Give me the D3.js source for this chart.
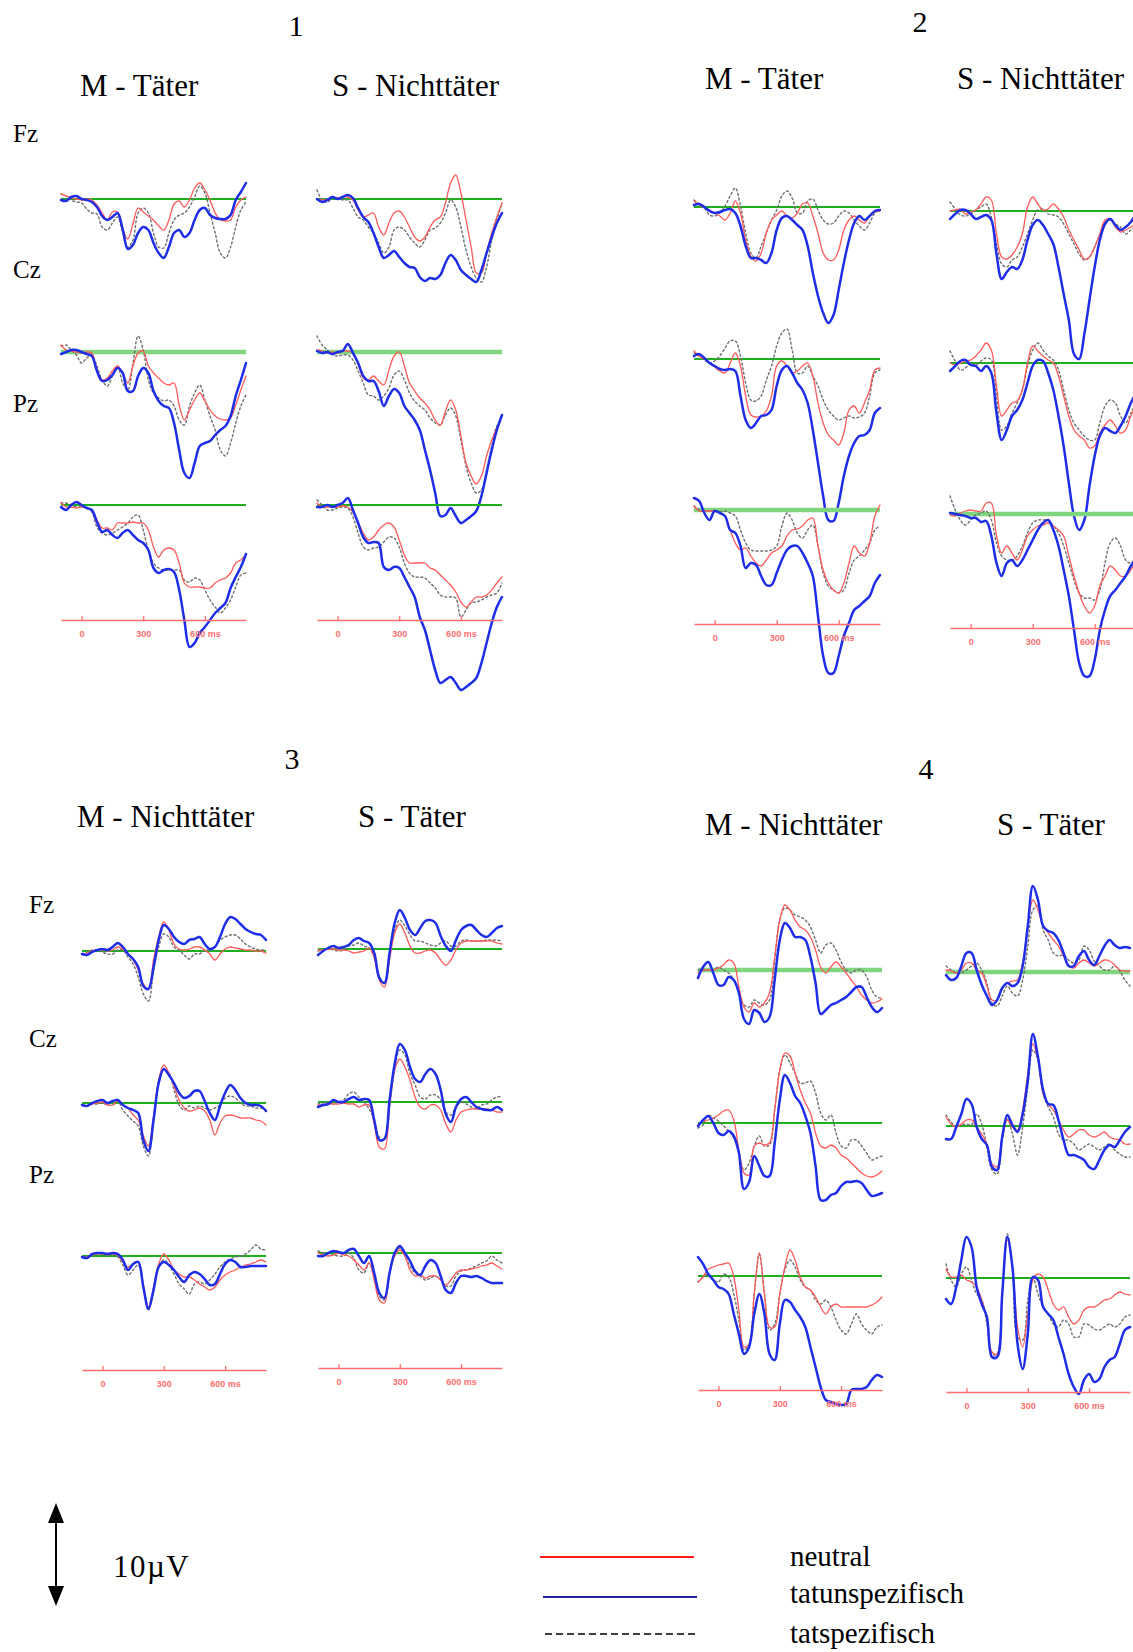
<!DOCTYPE html>
<html><head><meta charset="utf-8">
<script src="https://cdn.jsdelivr.net/npm/d3@7"></script>
<style>
body{margin:0;background:#fff}
svg{display:block;background:#fff}
.serif{font-family:"Liberation Serif","Times New Roman",serif;fill:#000}
</style>
</head><body>
<svg id="c" width="1133" height="1652"></svg>
<script>
// ---------- time axis / labels ----------
const times = [-100,-75,-50,-25,0,25,50,75,100,125,150,175,200,225,250,275,300,325,350,375,400,425,450,475,500,525,550,575,600,625,650,675,700,725,750,775,800];
const tickValues = [0, 300, 600];
const tickLabels = ["0", "300", "600 ms"];
const panelNumbers = ["1", "2", "3", "4"];
const columnTitles = [["M - Täter","S - Nichttäter"],["M - Täter","S - Nichttäter"],["M - Nichttäter","S - Täter"],["M - Nichttäter","S - Täter"]];
const electrodes = ["Fz", "Cz", "Pz"];
const legendLabels = ["neutral", "tatunspezifisch", "tatspezifisch"];
const scaleLabel = "10µV";

// ---------- amplitudes (µV, positive plotted downward) ----------
// Panel 1, left (M - Täter)
const p1a_Fz_neu  = [-0.5,-0.3,-0.1,0.0,0.1,0.0,0.1,0.6,1.4,2.1,1.3,1.3,3.0,4.0,2.5,0.9,1.3,1.7,2.1,2.7,3.1,2.1,0.5,0.2,0.8,0.1,-1.1,-1.6,-0.9,0.1,1.4,2.1,2.2,2.1,0.8,0.1,-0.2];
const p1a_Fz_unsp = [0.1,0.2,-0.2,-0.3,0.0,0.1,0.3,0.8,1.7,2.1,1.8,1.4,3.0,5.0,4.6,3.4,2.8,3.1,4.4,5.4,5.9,4.8,3.4,3.1,3.8,3.4,2.1,1.1,0.9,1.6,1.9,2.0,2.0,1.6,0.1,-0.7,-1.6];
const p1a_Fz_spez = [-0.5,-0.3,0.1,0.3,0.4,1.0,1.4,1.5,2.8,3.1,2.4,1.8,3.4,4.8,4.1,1.4,0.9,1.4,3.4,4.8,4.9,3.4,2.1,1.6,1.4,0.8,-0.2,-1.3,-0.6,1.4,3.4,5.4,5.9,4.8,2.8,1.1,0.3];
const p1a_Cz_neu  = [-0.7,-0.2,-0.1,0,0.1,0,0.1,1.8,2.8,2.6,1.9,1.4,2.1,3.1,1.4,0.1,-0.1,1.4,2.1,2.6,3.1,3.3,3.1,5.3,6.8,5.8,4.8,4.1,4.9,5.8,6.4,6.7,6.8,6.6,5.3,3.8,2.4];
const p1a_Cz_unsp = [0.2,0.0,-0.2,-0.2,0.0,0.2,0.4,1.9,2.9,2.8,2.3,1.6,2.1,3.9,3.9,2.4,1.6,2.1,3.9,4.9,5.4,5.6,7.1,9.8,12.1,12.6,11.1,9.4,9.1,8.9,8.3,7.8,7.4,6.4,4.4,2.8,1.1];
const p1a_Cz_spez = [-0.6,-0.7,-0.2,0.3,1.1,0.6,0.3,1.4,2.8,3.4,2.4,1.4,3.1,3.8,1.1,-1.6,-0.2,2.8,4.1,4.6,4.9,4.8,5.4,6.8,7.3,5.4,4.1,3.3,4.8,6.4,7.8,9.8,10.4,9.1,7.1,5.4,4.3];
const p1a_Pz_neu  = [-0.2,0.2,0.2,0.3,0.2,0.3,0.5,1.5,2.3,2.3,2.5,1.8,1.8,1.8,1.7,1.8,1.8,2.5,4.2,5.2,4.5,4.3,4.5,5.8,7.8,8.2,8.2,8.2,8.3,8.3,7.8,7.5,7.3,6.8,5.8,5.5,5.0];
const p1a_Pz_unsp = [0.2,0.5,0,-0.3,0,0.3,0.5,1.7,2.7,2.5,3.0,3.3,2.8,2.5,3.0,3.5,3.8,4.5,6.3,6.8,6.5,6.4,6.7,8.5,11.5,14.2,13.8,12.8,12.2,11.5,10.8,10.3,9.8,8.3,7.2,6.2,4.9];
const p1a_Pz_spez = [-0.2,-0.2,0,0.2,0.2,0.3,0.7,2.2,2.8,3.0,2.8,2.5,2.2,1.8,1.2,1.0,2.5,4.5,5.8,6.3,6.5,6.5,6.5,6.5,7.5,7.7,7.3,7.5,8.5,9.5,10.2,10.8,10.3,9.5,8.2,7.0,6.8];
// Panel 1, right (S - Nichttäter)
const p1b_Fz_neu  = [0,0.1,0,-0.2,-0.1,-0.2,-0.2,0.1,1.1,1.8,1.6,1.4,2.8,3.6,2.4,1.4,1.2,1.8,2.8,3.8,4.2,3.8,2.8,2.1,1.8,0.4,-1.6,-2.4,-0.6,2.1,4.8,7.4,7.4,5.4,3.4,1.8,0.4];
const p1b_Fz_unsp = [0,0.3,0.1,-0.2,0,-0.2,-0.4,-0.1,0.9,1.8,2.3,3.4,4.8,5.9,5.6,5.2,5.8,6.4,6.8,6.9,7.8,8.2,7.9,8.0,7.6,6.4,5.6,6.1,7.1,7.6,8.0,8.3,7.1,5.4,3.8,2.4,1.4];
const p1b_Fz_spez = [-0.9,0.1,0.3,-0.1,-0.1,0.1,0.1,0.9,1.8,2.1,2.8,3.4,4.4,5.4,4.8,3.1,2.8,3.1,3.8,4.4,4.8,4.1,3.1,2.9,2.4,1.4,0.1,0.8,2.8,5.1,6.8,7.9,8.3,6.8,4.1,2.1,0.4];
const p1b_Cz_neu  = [-0.2,-0.1,0.1,0,0.1,-0.1,-0.1,0.1,1.1,2.6,2.8,2.4,2.9,3.3,1.8,0.4,0,1.4,3.1,3.9,4.6,5.1,5.8,6.8,7.3,5.9,4.8,5.8,8.4,11.1,12.4,13.2,12.4,10.4,8.8,7.6,6.4];
const p1b_Cz_unsp = [-0.1,0.1,0,0.2,0,-0.1,-0.8,0.1,1.1,2.4,2.9,2.9,3.9,5.4,4.4,3.7,4.1,5.4,6.1,6.8,7.8,9.8,11.8,14.1,16.4,16.3,15.6,16.4,17.1,16.8,16.4,15.9,14.4,12.1,9.8,7.8,6.3];
const p1b_Cz_spez = [-1.6,-0.7,-0.2,0.3,0.4,0.3,0.3,0.8,1.9,3.1,4.3,4.4,4.8,4.4,3.6,2.3,1.9,2.8,4.1,4.9,5.4,5.8,6.6,7.1,7.3,6.3,5.6,6.4,8.8,11.4,13.1,14.1,13.8,11.8,9.4,7.4,6.8];
const p1b_Pz_neu  = [-0.2,0.2,0.2,0.2,0.2,0.1,0.2,0.7,1.7,2.8,3.5,3.2,2.5,2.0,1.8,2.2,3.5,5.0,5.8,5.8,5.8,5.8,6.3,6.5,7.0,7.5,8.0,8.7,9.7,10.2,9.7,9.2,9.2,9.0,8.5,7.8,7.2];
const p1b_Pz_unsp = [0.2,0.2,0,0.2,0,-0.2,-0.7,0.5,1.8,3.2,3.8,3.7,3.8,6.2,6.5,6.2,6.3,7.2,8.2,9.2,11.2,12.5,14.5,16.5,17.8,17.5,17.2,17.8,18.5,18.2,17.8,17.3,15.8,13.8,11.8,10.2,9.2];
const p1b_Pz_spez = [-0.5,0,0.5,0.5,0.3,0.2,0.3,1.2,2.8,4.2,4.5,4.3,4.2,3.7,3.2,3.3,4.2,5.8,6.8,7.2,7.2,7.3,7.8,8.3,9.0,9.2,9.2,9.3,11.2,10.5,9.8,9.7,9.5,9.2,9.0,8.8,7.8];
// Panel 2, left (M - Täter)
const p2a_Fz_neu  = [-0.6,-0.2,0.1,0.3,0.6,0.9,1.3,0.6,-0.6,0.6,3.3,4.9,5.4,4.6,2.6,1.3,0.8,0.4,0.9,1.1,0.6,-0.3,-0.4,0.9,2.6,4.6,5.3,5.3,4.3,2.3,1.3,0.9,1.3,1.6,0.9,0.5,0.4];
const p2a_Fz_unsp = [-0.2,-0.3,0,0.4,0.6,0.5,0.3,0.2,0.6,1.9,3.9,5.1,5.1,5.3,5.6,4.6,2.3,1.1,0.9,1.3,1.8,2.3,3.9,6.6,8.9,10.6,11.6,10.8,8.3,5.6,3.3,1.6,0.9,1.3,0.9,0.4,0.3];
const p2a_Fz_spez = [-0.7,-0.3,0.1,0.8,0.9,0.6,-0.1,-1.1,-1.9,-0.1,2.6,4.6,5.1,3.9,2.6,1.3,0.3,-1.1,-1.6,-0.9,0.6,0.6,-0.6,-0.8,0.3,1.3,1.7,1.6,0.9,0.4,0.6,1.3,1.9,2.3,1.6,0.6,0.3];
const p2a_Cz_neu  = [-0.8,-0.3,0,0.4,0.8,1.2,1.4,0.4,-0.6,0.7,3.7,5.6,5.8,5.7,5.2,3.7,0.7,0.2,0.7,1.4,1.2,0.7,0.4,1.7,4.4,6.4,7.6,8.1,8.6,7.4,5.1,4.7,5.4,4.4,3.1,1.1,0.9];
const p2a_Cz_unsp = [-0.3,-0.5,-0.1,0.4,0.7,1.0,1.1,1.0,1.2,3.7,6.1,6.9,6.4,5.7,5.6,5.1,2.7,1.1,0.7,1.4,2.4,3.1,4.4,7.1,10.4,13.7,16.1,16.2,14.4,11.7,9.7,8.4,7.7,7.6,7.1,5.4,4.9];
const p2a_Cz_spez = [-0.6,-0.3,0.1,0.4,0.2,-0.3,-1.1,-1.8,-1.8,-0.3,2.4,4.1,4.2,3.7,2.1,0.7,-1.3,-2.6,-3.0,-0.9,1.4,1.4,0.7,1.7,2.7,4.1,5.1,5.7,6.1,5.9,5.7,5.9,5.8,5.4,3.7,1.4,1.1];
const p2a_Pz_neu  = [-0.4,0.1,0.1,0.1,0.1,0.3,0.6,2.0,3.3,4.0,3.8,4.6,5.3,5.6,5.0,4.3,4.0,3.6,2.6,2.0,1.9,1.6,1.0,0.8,3.6,6.0,7.3,8.0,8.3,7.3,5.3,3.6,4.3,4.6,3.3,0.6,-0.5];
const p2a_Pz_unsp = [-1.2,-0.9,0.3,1.0,0.1,0.3,0.6,2.0,2.3,3.6,5.8,5.3,5.5,6.6,7.5,7.5,6.3,5.0,4.0,3.6,3.6,4.3,5.3,6.6,10.6,14.6,16.3,16.3,14.6,12.6,11.3,10.0,9.6,9.1,8.6,7.3,6.5];
const p2a_Pz_spez = [-0.4,0,0.1,0.1,0.1,0.2,0.1,0.3,0.6,2.0,3.3,4.0,4.1,4.1,4.1,4.0,3.6,1.6,0.3,1.0,2.3,2.8,2.0,1.5,3.6,6.3,7.6,8.0,8.3,8.0,6.3,5.0,4.6,4.0,3.3,2.0,1.6];
// Panel 2, right (S - Nichttäter)
const p2b_Fz_neu  = [0,-0.1,-0.2,0.3,0.1,-0.1,-0.7,-1.4,-1.1,2.3,4.6,4.8,4.4,3.6,2.3,-0.4,-1.4,-0.7,-0.1,-0.2,-0.7,-0.2,0.6,1.9,2.9,3.9,4.8,4.6,3.6,2.3,0.9,0.8,1.6,2.1,1.9,1.6,1.3];
const p2b_Fz_unsp = [0.8,0.3,-0.1,-0.1,0.3,0.8,0.6,0.4,0.9,4.3,6.8,6.1,5.6,5.8,4.9,2.9,1.4,0.9,1.4,2.3,3.3,5.6,8.3,10.9,14.3,14.8,12.3,8.9,5.6,2.9,1.3,0.8,1.4,1.9,1.6,1.1,0.3];
const p2b_Fz_spez = [-0.9,-0.2,0.4,0.5,0.3,-0.1,-0.4,-0.7,0.6,3.3,5.3,5.6,4.9,4.6,3.6,2.3,0.9,-0.1,-0.2,0.3,0.4,0.6,1.3,2.3,3.3,4.3,4.9,4.6,3.6,2.3,1.1,0.9,1.3,1.6,2.3,1.9,1.6];
const p2b_Cz_neu  = [0,0.2,0,-0.2,-0.3,-0.7,-1.3,-2.0,-1.3,2.3,5.3,4.7,4.0,3.8,2.7,0,-1.7,-1.2,-0.7,-0.3,0,1.3,3.3,5.3,6.7,7.3,7.7,8.5,8.3,7.0,6.2,5.7,6.3,7.0,6.7,5.3,4.3];
const p2b_Cz_unsp = [0.8,0.3,-0.2,-0.3,0.2,0.3,0.8,0.3,1.0,5.0,7.7,6.7,5.3,4.7,3.7,2.0,0.3,-0.3,-0.2,1.0,2.7,5.3,8.3,12.0,15.3,16.7,15.7,12.3,9.3,7.3,6.5,6.8,7.0,6.3,5.3,4.0,3.0];
const p2b_Cz_spez = [-1.2,-0.2,0.7,0.5,0,0.2,-0.2,-0.5,-0.3,3.3,6.7,6.3,5.0,4.0,2.7,0.3,-1.3,-2.0,-1.3,-0.7,-0.3,0.7,2.7,4.7,6.0,6.7,7.3,7.7,7.7,6.0,4.3,3.7,4.0,5.3,6.0,5.0,4.0];
const p2b_Pz_neu  = [0.1,0.2,-0.1,-0.3,-0.4,-0.3,-0.3,-1.1,-1.1,2.2,3.9,3.2,3.9,4.6,3.6,2.2,1.6,1.2,1.1,0.9,1.2,1.6,2.2,4.2,6.2,7.9,9.2,9.9,9.2,7.2,6.2,5.2,5.6,6.2,6.2,5.6,4.6];
const p2b_Pz_unsp = [-0.1,0,0.1,0.2,0.4,0.4,0.8,0.7,2.2,4.9,6.2,4.9,4.6,5.2,4.6,3.6,2.6,1.6,0.9,0.6,1.6,3.2,5.6,8.2,11.6,14.9,16.2,16.2,14.6,11.6,9.6,8.2,7.6,6.9,6.2,5.2,4.6];
const p2b_Pz_spez = [-1.8,-0.4,0.6,1.1,0.6,0.1,-0.1,-0.3,0.6,2.9,4.2,4.6,4.7,4.2,3.2,1.9,0.9,0.6,0.6,0.6,1.2,1.9,3.2,4.9,6.6,7.9,8.4,8.4,8.6,7.6,4.9,2.9,2.4,3.2,4.6,4.9,4.2];
// Panel 3, left (M - Nichttäter)
const p3a_Fz_neu  = [0.3,0.2,0,-0.1,-0.1,0,-0.1,-0.4,-0.2,0.3,0.9,1.9,3.3,3.8,0.9,-1.4,-2.9,-2.1,-0.7,-0.2,-0.1,-0.2,-0.4,-0.4,-0.1,0.3,0.9,0.3,-0.2,-0.4,-0.3,-0.2,-0.1,-0.1,0,0,0.2];
const p3a_Fz_unsp = [0.3,0.4,0.1,-0.1,-0.2,-0.1,-0.4,-0.8,-0.4,0.3,0.8,1.6,3.5,3.8,1.6,-1.1,-2.6,-2.2,-1.4,-0.9,-0.7,-1.1,-1.2,-1.4,-0.7,-0.2,-0.4,-1.4,-2.7,-3.4,-3.2,-2.7,-2.2,-1.9,-1.7,-1.6,-1.1];
const p3a_Fz_spez = [0.3,0.1,-0.1,-0.1,0.1,0.3,0.3,-0.1,-0.1,0.6,1.3,2.6,4.3,5.0,2.0,-0.4,-1.7,-1.4,-0.4,-0.1,0.4,0.8,0.3,0.3,-0.1,-0.1,-0.4,-1.1,-1.4,-1.6,-1.6,-1.2,-0.7,-0.4,-0.2,-0.1,-0.1];
const p3a_Cz_neu  = [0.2,0.3,0.1,0,-0.1,0.2,0.2,-0.2,0.2,0.5,1.2,1.7,3.3,4.3,1.3,-2.3,-3.8,-3.0,-1.7,-0.3,0.5,0.8,0.7,0.5,0.8,1.7,3.2,2.0,1.3,1.2,1.3,1.5,1.5,1.5,1.7,1.8,2.2];
const p3a_Cz_unsp = [0.2,0.3,0,-0.2,-0.3,0,-0.2,-0.3,0.2,0.5,0.7,1.0,3.7,4.8,1.7,-2.0,-3.4,-2.8,-2.0,-1.0,-0.5,-0.7,-1.2,-1.2,-0.2,1.0,1.7,0.3,-1.0,-1.8,-1.3,-0.5,0,0.2,0.2,0.3,0.8];
const p3a_Cz_spez = [0.2,0.3,0.1,0.1,0,0.2,0.2,-0.2,0.7,1.3,1.8,2.3,4.3,5.3,1.7,-2.0,-3.3,-3.0,-1.3,0.2,0.7,0.3,0.5,0.3,0.5,0.7,0.5,0.2,-0.5,-0.7,-0.5,0,0.3,0.3,0.5,0.5,0.7];
const p3a_Pz_neu  = [0.1,0.1,-0.1,-0.2,-0.2,-0.1,-0.2,-0.1,0.6,1.1,0.8,0.6,2.9,5.1,3.1,0.8,-0.2,0.4,1.4,1.8,2.1,2.1,2.4,2.8,3.1,3.4,3.1,2.4,1.9,1.6,1.4,1.1,0.9,0.8,0.6,0.4,0.6];
const p3a_Pz_unsp = [0.1,0.2,-0.2,-0.3,-0.3,-0.2,-0.3,-0.2,0.4,1.4,0.8,0.6,3.1,5.3,3.4,1.1,0.6,0.9,1.4,2.1,2.6,1.9,1.6,1.8,2.3,2.9,2.8,1.8,0.8,0.4,0.6,1.1,1.1,1.0,1.0,1.0,1.0];
const p3a_Pz_spez = [0.1,0.1,-0.1,-0.2,-0.2,-0.2,-0.2,0.1,0.9,1.9,1.4,0.9,3.1,5.4,3.4,1.1,0.4,0.9,1.8,2.8,3.3,3.8,2.8,2.6,2.8,2.4,1.8,1.1,0.6,0.3,0.1,0,-0.2,-0.6,-1.1,-0.7,-0.6];
// Panel 3, right (S - Täter)
const p3b_Fz_neu  = [0.1,0.1,0,0,0.1,0.1,0.2,0.4,0.3,0.2,-0.1,0.9,3.1,3.8,1.1,-1.6,-2.5,-1.6,-0.3,0.4,0.4,0.2,0.1,0.4,1.1,1.6,1.1,0.1,-0.6,-0.8,-0.8,-0.8,-0.8,-0.8,-0.8,-0.6,-0.5];
const p3b_Fz_unsp = [0.6,0.2,-0.1,-0.3,-0.1,-0.2,-0.4,-0.9,-1.1,-0.8,-0.6,0.4,2.9,3.4,0.4,-2.6,-3.9,-3.1,-1.9,-1.4,-2.1,-2.8,-2.9,-2.6,-1.3,-0.3,0.2,-0.9,-1.9,-2.3,-2.4,-1.9,-1.4,-1.2,-1.6,-2.1,-2.3];
const p3b_Fz_spez = [0.2,0.1,-0.1,0.1,0.2,0.1,-0.3,-0.4,-0.6,-0.3,-0.1,0.7,2.7,3.4,0.4,-1.9,-2.9,-2.3,-1.4,-0.8,-0.8,-0.6,-0.4,-0.3,-0.6,-0.8,-0.3,-0.3,-0.8,-0.9,-0.8,-0.8,-0.8,-0.9,-0.9,-0.9,-0.8];
const p3b_Cz_neu  = [0.3,0.3,0.2,0.2,0.2,0.1,0.2,0.2,0.5,0.3,0.3,2.2,4.5,4.7,0.5,-3.2,-4.3,-3.5,-2.2,-0.5,0.5,0.7,0.3,0.3,0.8,2.2,3.0,1.8,1.0,0.8,0.7,0.7,0.7,0.7,0.8,1.0,1.0];
const p3b_Cz_unsp = [0.5,0.3,0.2,-0.2,0,0,-0.3,-0.5,-0.2,-0.3,-0.2,1.8,3.8,3.7,-0.2,-3.8,-5.8,-5.2,-3.5,-2.3,-2.0,-2.8,-3.3,-2.8,-1.2,1.2,2.0,0.5,-0.3,-0.5,0,0.5,0.7,0.8,0.8,0.5,0.8];
const p3b_Cz_spez = [0.2,0.1,0,0.2,0,-0.2,-0.8,-1.0,-0.5,0,0.7,1.8,3.5,3.7,0.5,-3.2,-5.2,-4.7,-2.8,-1.7,-0.5,-0.3,-0.7,-0.7,-0.2,1.0,1.3,0.5,0,0.2,0.5,0.7,0.3,0.2,-0.2,-0.5,-0.5];
const p3b_Pz_neu  = [0,0.2,0.3,0.2,0,0.2,0.3,0.7,1.2,1.7,1.0,2.7,4.7,5.0,2.0,0.3,-0.3,0.3,1.7,2.3,2.2,2.5,2.3,2.3,2.7,3.2,2.7,2.0,1.7,1.7,1.6,1.5,1.3,1.2,1.0,1.3,1.6];
const p3b_Pz_unsp = [0.3,0.3,0,-0.2,-0.1,0,-0.3,-0.4,0.3,1.0,0.3,2.0,4.0,4.5,2.0,0,-0.7,0,0.8,1.8,2.2,1.3,0.7,1.0,2.3,3.7,4.0,3.0,2.3,2.3,2.4,2.3,2.5,2.8,3.0,3.0,3.0];
const p3b_Pz_spez = [-0.2,0,0.2,0.2,0.3,0.3,0,0.5,1.7,2.0,1.0,2.3,4.3,4.7,2.0,0.2,-0.5,0.3,1.3,2.0,2.3,2.7,2.5,2.3,2.7,3.3,3.3,2.3,1.8,1.7,1.5,1.3,1.0,0.8,0.3,0.7,1.0];
// Panel 4, left (M - Nichttäter)
const p4a_Fz_neu  = [0.3,0,0,0,-0.2,-0.5,-1.0,-0.7,1.7,3.7,4.2,3.3,3.7,3.3,2.3,-1.3,-5.0,-6.5,-6.0,-5.0,-4.3,-4.0,-3.3,-2.0,-0.3,0.3,-0.3,-0.8,-0.3,0.3,1.0,1.7,2.5,3.0,3.3,3.2,2.9];
const p4a_Fz_unsp = [0.8,-0.3,-0.8,0.3,1.5,1.5,0.7,1.0,2.3,4.9,5.4,4.0,4.3,5.2,4.7,1.0,-3.0,-4.7,-4.2,-3.3,-3.3,-3.0,-1.3,1.3,4.4,4.0,3.5,3.3,3.0,2.7,2.2,1.7,1.7,2.7,3.7,4.2,3.8];
const p4a_Fz_spez = [0,0,0,0,-0.3,0,0.3,1.0,2.3,3.5,3.7,3.0,3.3,3.5,3.0,-1.0,-5.0,-6.2,-6.0,-5.5,-5.3,-5.0,-4.3,-3.0,-1.7,-2.5,-2.7,-2.0,-0.8,0,0.3,0,0,0.7,2.0,2.7,2.8];
const p4a_Cz_neu  = [0.2,-0.2,-0.3,-0.5,-0.8,-1.2,-1.3,-0.3,2.7,5.0,5.2,2.3,2.0,2.2,2.0,-1.3,-5.3,-7.0,-6.7,-5.0,-3.3,-2.0,-1.0,1.0,2.3,2.5,2.2,2.5,3.2,3.5,4.0,4.5,5.0,5.3,5.4,5.2,4.8];
const p4a_Cz_unsp = [0.3,-0.3,-0.7,0,1.0,1.2,0.8,1.3,3.0,6.6,5.9,3.3,4.3,5.3,5.3,2.0,-2.3,-4.8,-4.0,-2.7,-2.0,-0.7,1.0,4.3,7.7,7.7,7.2,7.0,6.3,5.9,5.9,5.8,6.0,6.7,7.3,7.2,7.0];
const p4a_Cz_spez = [0.5,0.2,-0.8,-0.5,-0.2,0.3,0.8,1.5,3.0,4.7,4.0,2.3,1.3,2.3,2.2,-1.3,-5.3,-6.8,-6.0,-5.0,-4.0,-4.0,-4.2,-3.0,-1.0,-0.3,-0.8,1.0,2.3,2.5,1.7,1.7,2.3,3.0,3.7,3.5,3.3];
const p4a_Pz_neu  = [0.6,0.1,-0.7,-0.9,-1.1,-1.2,-1.3,0.1,3.4,7.1,6.8,1.8,-2.3,1.8,5.1,5.1,1.8,-0.9,-2.6,-1.6,0.1,1.1,1.4,2.1,3.1,3.8,3.1,2.8,3.1,3.1,3.1,3.1,3.1,3.1,2.9,2.6,2.1];
const p4a_Pz_unsp = [-1.9,-1.2,-0.2,0.4,1.1,1.3,1.8,3.8,5.8,7.8,7.1,3.8,1.8,3.8,7.8,8.4,4.8,2.4,2.6,3.4,4.1,5.1,7.1,9.1,11.1,12.4,12.6,12.8,12.9,12.8,11.4,11.3,11.3,11.1,10.4,9.9,10.1];
const p4a_Pz_spez = [0.6,0.1,-0.2,0.4,0.6,-0.2,0.1,1.8,4.4,7.4,6.8,1.8,-2.2,1.8,5.4,4.8,1.8,-0.6,-1.6,-0.9,0.4,1.1,1.4,2.4,2.8,2.4,3.1,4.4,5.4,5.8,4.8,3.8,4.8,5.4,5.8,5.1,4.9];
// Panel 4, right (S - Täter)
const p4b_Fz_neu  = [-0.2,-0.1,0.1,-0.2,-0.9,-0.9,-0.2,0.1,1.4,2.8,2.8,1.6,1.1,0.9,0.8,-0.9,-4.6,-7.2,-6.2,-4.6,-3.9,-3.2,-2.6,-1.6,-0.6,-0.4,-0.9,-1.2,-0.9,-0.6,-0.9,-1.2,-1.1,-0.7,-0.2,-0.1,-0.1];
const p4b_Fz_unsp = [0.3,0.8,0.6,-0.6,-1.9,-1.9,-0.2,1.3,2.4,3.3,2.8,1.6,1.1,1.4,1.1,-0.6,-4.6,-8.6,-7.2,-4.6,-4.1,-3.9,-3.2,-1.9,-0.6,-0.6,-1.6,-2.1,-1.2,-0.7,-1.6,-2.6,-3.2,-2.7,-2.4,-2.5,-2.4];
const p4b_Fz_spez = [-0.6,-0.2,0.1,0.1,-0.2,-0.6,-0.9,-0.2,1.1,3.1,3.4,2.4,1.4,2.1,2.4,0.8,-2.6,-6.2,-6.6,-4.2,-3.2,-1.9,-1.6,-1.7,-1.2,-0.9,-1.2,-2.6,-2.2,-1.1,-0.6,-0.2,-0.2,-0.6,-0.1,0.8,1.4];
const p4b_Cz_neu  = [-0.9,-0.2,0.1,-0.2,-0.6,-0.6,0.1,0.8,1.8,3.8,4.1,1.1,-0.6,0.1,0.4,-1.6,-5.2,-8.2,-6.6,-3.2,-2.2,-1.6,-0.6,0.4,1.1,0.8,0.4,0.4,0.9,1.1,0.9,0.6,1.1,1.3,1.4,1.8,1.8];
const p4b_Cz_unsp = [1.3,1.3,0.1,-1.2,-2.7,-2.2,0.1,1.3,1.9,4.1,4.4,1.1,-1.1,-0.1,0.6,-1.2,-4.6,-9.2,-6.9,-3.6,-2.2,-2.1,-0.6,1.4,2.9,2.9,3.1,3.4,4.1,4.3,3.4,2.4,1.9,2.1,1.4,0.6,0.1];
const p4b_Cz_spez = [-1.1,-0.4,0.1,-0.1,-0.2,-0.1,-1.2,-0.2,2.1,4.4,4.8,1.4,-0.7,0.8,2.9,0.1,-3.9,-7.6,-6.6,-3.2,-1.9,-0.9,0.8,1.4,1.4,1.8,2.4,2.1,1.8,2.1,2.4,2.1,1.8,2.4,2.8,3.1,3.1];
const p4b_Pz_neu  = [-0.9,-0.1,-0.1,-0.3,0.2,0.4,0.9,2.2,4.2,7.4,7.6,1.6,-3.8,-1.1,4.9,6.9,3.6,0.2,-0.4,-0.1,1.2,2.6,3.2,2.9,3.9,4.6,4.2,3.2,2.9,2.9,2.6,2.2,2.1,1.7,1.4,1.6,1.7];
const p4b_Pz_unsp = [2.1,2.6,0.9,-1.8,-4.1,-3.1,0.9,2.6,3.9,7.9,7.9,1.6,-4.1,-1.1,6.6,9.1,5.6,-0.1,0.2,2.9,3.6,4.2,5.9,7.6,9.6,10.9,11.6,10.2,9.6,10.4,10.1,8.9,8.2,7.9,6.6,5.2,4.9];
const p4b_Pz_spez = [-1.4,0.2,0.9,-0.4,-1.1,0.2,1.6,2.2,4.6,7.6,7.6,1.6,-4.4,-1.1,5.9,6.2,2.2,-0.1,1.6,2.9,3.6,4.6,4.9,4.2,4.6,5.9,5.9,4.6,4.7,5.1,5.2,4.9,4.6,4.9,4.6,3.9,3.7];

// ---------- assemble ----------
const dataGrid = [
  [[[p1a_Fz_neu,p1a_Fz_unsp,p1a_Fz_spez],[p1a_Cz_neu,p1a_Cz_unsp,p1a_Cz_spez],[p1a_Pz_neu,p1a_Pz_unsp,p1a_Pz_spez]],
   [[p1b_Fz_neu,p1b_Fz_unsp,p1b_Fz_spez],[p1b_Cz_neu,p1b_Cz_unsp,p1b_Cz_spez],[p1b_Pz_neu,p1b_Pz_unsp,p1b_Pz_spez]]],
  [[[p2a_Fz_neu,p2a_Fz_unsp,p2a_Fz_spez],[p2a_Cz_neu,p2a_Cz_unsp,p2a_Cz_spez],[p2a_Pz_neu,p2a_Pz_unsp,p2a_Pz_spez]],
   [[p2b_Fz_neu,p2b_Fz_unsp,p2b_Fz_spez],[p2b_Cz_neu,p2b_Cz_unsp,p2b_Cz_spez],[p2b_Pz_neu,p2b_Pz_unsp,p2b_Pz_spez]]],
  [[[p3a_Fz_neu,p3a_Fz_unsp,p3a_Fz_spez],[p3a_Cz_neu,p3a_Cz_unsp,p3a_Cz_spez],[p3a_Pz_neu,p3a_Pz_unsp,p3a_Pz_spez]],
   [[p3b_Fz_neu,p3b_Fz_unsp,p3b_Fz_spez],[p3b_Cz_neu,p3b_Cz_unsp,p3b_Cz_spez],[p3b_Pz_neu,p3b_Pz_unsp,p3b_Pz_spez]]],
  [[[p4a_Fz_neu,p4a_Fz_unsp,p4a_Fz_spez],[p4a_Cz_neu,p4a_Cz_unsp,p4a_Cz_spez],[p4a_Pz_neu,p4a_Pz_unsp,p4a_Pz_spez]],
   [[p4b_Fz_neu,p4b_Fz_unsp,p4b_Fz_spez],[p4b_Cz_neu,p4b_Cz_unsp,p4b_Cz_spez],[p4b_Pz_neu,p4b_Pz_unsp,p4b_Pz_spez]]]
];

// ---------- layout (pixels) ----------
const panels = [
  {num:[296,36], titleY:96, titleX:[80,332], labelX:13, labelY:[142,278,412], width:185,
   cols:[{x0:61, base:[199,352,505], axis:620},{x0:317, base:[199,352,505], axis:620}], thick:[false,true,false]},
  {num:[920,32], titleY:89, titleX:[705,957], labelX:null, width:186,
   cols:[{x0:694, base:[207,359,510], axis:624},{x0:950, base:[211,363,514], axis:628}], thick:[false,false,true]},
  {num:[292,769], titleY:827, titleX:[77,358], labelX:29, labelY:[913,1047,1183], width:184,
   cols:[{x0:82, base:[951,1103,1256], axis:1370},{x0:318, base:[949,1102,1253], axis:1368}], thick:[false,false,false]},
  {num:[926,779], titleY:835, titleX:[705,997], labelX:null, width:184,
   cols:[{x0:698, base:[970,1123,1276], axis:1390},{x0:946, base:[972,1126,1278], axis:1392}], thick:[true,false,false]}
];
const PX_PER_UV = 10;
const styles = [
  {stroke:"#ff5a5a", width:1.3, dash:null},      // neutral
  {stroke:"#1e2ee8", width:2.5, dash:null},      // tatunspezifisch
  {stroke:"#707070", width:1.4, dash:"2,2.6"}    // tatspezifisch
];

const svg = d3.select("#c");

panels.forEach((p, pi) => {
  svg.append("text").attr("class","serif").attr("x", p.num[0]).attr("y", p.num[1])
    .attr("text-anchor","middle").attr("font-size", 30).text(panelNumbers[pi]);
  p.titleX.forEach((tx, ci) => {
    svg.append("text").attr("class","serif").attr("x", tx).attr("y", p.titleY)
      .attr("font-size", 31).text(columnTitles[pi][ci]);
  });
  if (p.labelX !== null) {
    electrodes.forEach((e, ri) => {
      svg.append("text").attr("class","serif").attr("x", p.labelX).attr("y", p.labelY[ri])
        .attr("font-size", 25).text(e);
    });
  }
  p.cols.forEach((c, ci) => {
    const x = d3.scaleLinear().domain([times[0], times[times.length-1]]).range([c.x0, c.x0 + p.width]);
    c.base.forEach((b, ri) => {
      const y = d3.scaleLinear().domain([0, 10]).range([b, b + 10 * PX_PER_UV]);
      const g = svg.append("g");
      const thick = p.thick[ri];
      g.append("line")
        .attr("x1", x.range()[0]).attr("x2", x.range()[1])
        .attr("y1", y(0)).attr("y2", y(0))
        .attr("stroke", thick ? "#7fd67f" : "#1fae1f")
        .attr("stroke-width", thick ? 4.5 : 2);
      const line = d3.line().x((d, i) => x(times[i])).y(d => y(d)).curve(d3.curveCatmullRom.alpha(0.5));
      const set = dataGrid[pi][ci][ri];
      [2, 0, 1].forEach(si => {
        const s = styles[si];
        g.append("path").datum(set[si])
          .attr("d", line).attr("fill","none")
          .attr("stroke", s.stroke).attr("stroke-width", s.width)
          .attr("stroke-dasharray", s.dash)
          .attr("stroke-linejoin","round").attr("stroke-linecap","round");
      });
    });
    const axis = d3.axisBottom(x).tickValues(tickValues)
      .tickFormat((d, i) => tickLabels[i]).tickSize(-4).tickSizeOuter(0).tickPadding(11);
    const ag = svg.append("g").attr("transform", `translate(0,${c.axis})`).call(axis);
    ag.select(".domain").attr("stroke", "#ff6e6e").attr("stroke-width", 1.6);
    ag.selectAll(".tick line").attr("stroke", "#ff6e6e").attr("stroke-width", 1.3);
    ag.selectAll(".tick text").attr("fill", "#ff6e6e")
      .attr("font-family", "Liberation Sans, Arial, sans-serif")
      .attr("font-size", 9).attr("font-weight", "bold");
  });
});

// ---------- scale arrow ----------
const arrow = svg.append("g");
const ax = 56, ay1 = 1503, ay2 = 1606, headH = 20, headW = 8;
arrow.append("line").attr("x1", ax).attr("x2", ax).attr("y1", ay1 + 10).attr("y2", ay2 - 10)
  .attr("stroke", "#000").attr("stroke-width", 2);
arrow.append("path").attr("d", `M${ax},${ay1} L${ax-headW},${ay1+headH} L${ax+headW},${ay1+headH} Z`).attr("fill","#000");
arrow.append("path").attr("d", `M${ax},${ay2} L${ax-headW},${ay2-headH} L${ax+headW},${ay2-headH} Z`).attr("fill","#000");
svg.append("text").attr("class","serif").attr("x", 113).attr("y", 1577)
  .attr("font-size", 31).attr("letter-spacing", 1.5).text(scaleLabel);

// ---------- legend ----------
const legendItems = [
  {x1:540, x2:694, y:1557, stroke:"#ff1a1a", width:2, dash:null, ty:1566},
  {x1:543, x2:697, y:1597, stroke:"#222299", width:2.2, dash:null, ty:1603},
  {x1:545, x2:696, y:1634, stroke:"#000", width:1.6, dash:"7,4", ty:1643}
];
legendItems.forEach((it, i) => {
  svg.append("line").attr("x1", it.x1).attr("x2", it.x2).attr("y1", it.y).attr("y2", it.y)
    .attr("stroke", it.stroke).attr("stroke-width", it.width).attr("stroke-dasharray", it.dash);
  svg.append("text").attr("class","serif").attr("x", 790).attr("y", it.ty)
    .attr("font-size", 29).text(legendLabels[i]);
});
</script>
</body></html>
